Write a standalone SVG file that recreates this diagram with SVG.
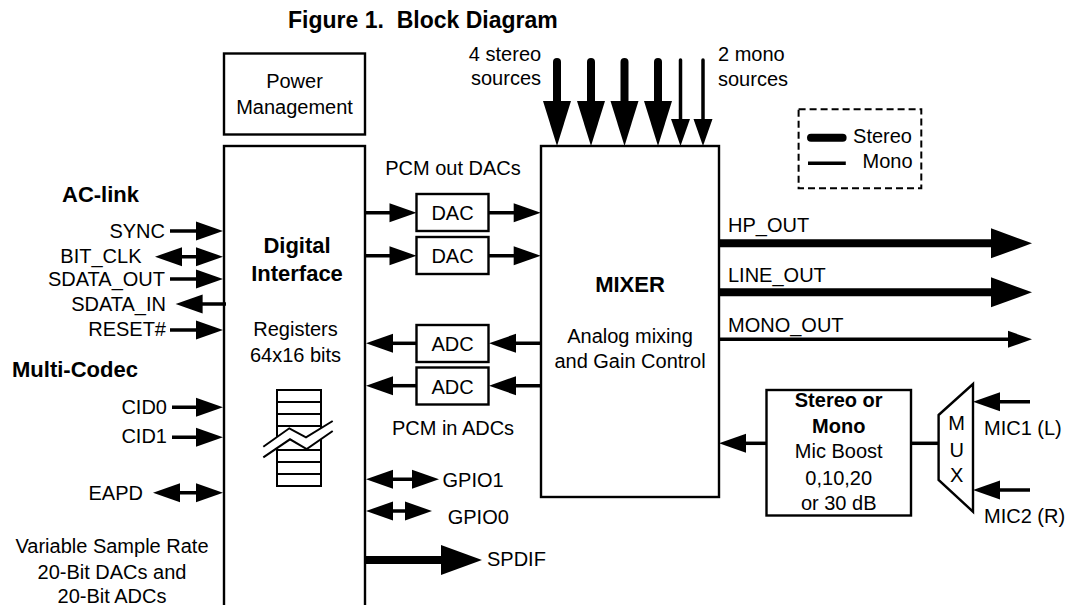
<svg xmlns="http://www.w3.org/2000/svg" xmlns:xlink="http://www.w3.org/1999/xlink" width="1066" height="605" viewBox="0 0 1066 605">
<style>
text{font-family:"Liberation Sans",Arial,sans-serif;font-size:20px;fill:#000}
.b{font-weight:bold;font-size:22px}
.bs{font-weight:bold}
.m{text-anchor:middle}
.e{text-anchor:end}
.box{fill:#fff;stroke:#000;stroke-width:2.4}
.w{stroke:#000;stroke-width:3.5;fill:none}
.t{stroke:#000;stroke-width:8;fill:none}
.h{fill:#000}
</style>
<defs>
<path id="hs" class="h" d="M0,0 L-27,-9.5 L-27,9.5 Z"/>
<path id="hm" class="h" d="M0,0 L-24,-8.5 L-24,8.5 Z"/>
<path id="hl" class="h" d="M0,0 L-41,-15 L-41,15 Z"/>
<path id="hv" class="h" d="M0,0 L-45,-14 L-45,14 Z"/>
</defs>
<rect width="1066" height="605" fill="#fff"/>
<text id="title" class="bs" x="288" y="27.5" style="font-size:23px">Figure 1.&#160; Block Diagram</text>

<g id="power"><rect class="box" x="224" y="53.5" width="141" height="81"/>
<text class="m" x="294.5" y="88">Power</text><text class="m" x="294.5" y="114">Management</text></g>

<g id="digital"><rect class="box" x="224" y="146" width="141" height="480"/>
<text class="b m" x="297" y="253">Digital</text><text class="b m" x="297" y="280.7">Interface</text>
<text class="m" x="295.5" y="335.7">Registers</text><text class="m" x="295.5" y="361.7">64x16 bits</text>
<g id="regstack"><rect x="277" y="390" width="44" height="96" fill="#fff" stroke="#000" stroke-width="2"/>
<path d="M277,402H321M277,414H321M277,426H321M277,438H321M277,450H321M277,462H321M277,474H321" stroke="#000" stroke-width="2"/>
<polygon points="263.3,446.7 289.3,428.3 306,437.3 332.7,421 332.7,431 306.7,449 290,439.3 263.3,457.3" fill="#fff"/>
<polyline points="263.3,446.7 289.3,428.3 306,437.3 332.7,421" fill="none" stroke="#000" stroke-width="2"/>
<polyline points="263.3,457.3 290,439.3 306.7,449 332.7,431" fill="none" stroke="#000" stroke-width="2"/></g></g>

<g id="dac1"><rect class="box" x="416.5" y="194" width="72" height="37"/><text class="m" x="452.5" y="220">DAC</text></g>
<g id="dac2"><rect class="box" x="416.5" y="237" width="72" height="37"/><text class="m" x="452.5" y="263">DAC</text></g>
<g id="adc1"><rect class="box" x="416.5" y="325" width="72" height="37"/><text class="m" x="452.5" y="351">ADC</text></g>
<g id="adc2"><rect class="box" x="416.5" y="367.5" width="72" height="37"/><text class="m" x="452.5" y="393.5">ADC</text></g>

<g id="mixer"><rect class="box" x="541" y="146" width="178" height="351"/>
<text class="b m" x="630" y="291.7">MIXER</text>
<text class="m" x="630" y="343.3">Analog mixing</text><text class="m" x="630" y="368.3">and Gain Control</text></g>

<g id="boost"><rect class="box" x="766.5" y="390" width="144.5" height="125.5"/>
<text class="bs m" x="838.7" y="406.7">Stereo or</text><text class="bs m" x="838.7" y="432.7">Mono</text>
<text class="m" x="838.7" y="458.3">Mic Boost</text><text class="m" x="838.7" y="485">0,10,20</text><text class="m" x="838.7" y="510">or 30 dB</text></g>

<g id="mux"><polygon class="box" points="938.6,415 973,384 973,511.7 938.6,480"/>
<text class="m" x="956.7" y="430">M</text><text class="m" x="956.7" y="457">U</text><text class="m" x="956.7" y="482">X</text></g>

<g id="legend"><rect x="798.6" y="109.3" width="122.7" height="79" fill="none" stroke="#000" stroke-width="2" stroke-dasharray="7 4"/>
<line x1="811" y1="137.7" x2="842.6" y2="137.7" class="t" stroke-linecap="round"/>
<line x1="808" y1="163.3" x2="845.8" y2="163.3" class="w"/>
<text class="e" x="912" y="142.5">Stereo</text><text class="e" x="912.6" y="168">Mono</text></g>

<g id="labels">
<text x="505" y="61" class="m">4 stereo</text><text x="506" y="85" class="m">sources</text>
<text x="718" y="61">2 mono</text><text x="718" y="86">sources</text>
<text class="m" x="453" y="175">PCM out DACs</text>
<text class="m" x="453" y="435">PCM in ADCs</text>
<text class="b" x="62" y="201.7">AC-link</text>
<text class="b" x="12" y="376.7">Multi-Codec</text>
<text class="e" x="165" y="237.5">SYNC</text>
<text class="e" x="141.5" y="262.5">BIT_CLK</text>
<text class="e" x="165" y="286">SDATA_OUT</text>
<text class="e" x="166" y="310.5">SDATA_IN</text>
<text class="e" x="166" y="335.5">RESET#</text>
<text class="e" x="167" y="413.5">CID0</text>
<text class="e" x="167" y="443">CID1</text>
<text class="e" x="143" y="499.5">EAPD</text>
<text class="m" x="112" y="553">Variable Sample Rate</text>
<text class="m" x="112" y="579">20-Bit DACs and</text>
<text class="m" x="112" y="603">20-Bit ADCs</text>
<text x="442.5" y="487.3">GPIO1</text>
<text x="447.7" y="524">GPIO0</text>
<text x="487" y="566">SPDIF</text>
<text x="728" y="231.7">HP_OUT</text>
<text x="728" y="281.7">LINE_OUT</text>
<text x="728" y="331.7">MONO_OUT</text>
<text x="984" y="435">MIC1 (L)</text>
<text x="984" y="523.3">MIC2 (R)</text>
</g>

<g id="connectors">
<g id="sources">
<line class="t" x1="557" y1="62" x2="557" y2="106" stroke-linecap="round"/><use xlink:href="#hv" transform="translate(557,146) rotate(90)"/>
<line class="t" x1="591" y1="62" x2="591" y2="106" stroke-linecap="round"/><use xlink:href="#hv" transform="translate(591,146) rotate(90)"/>
<line class="t" x1="624.5" y1="62" x2="624.5" y2="106" stroke-linecap="round"/><use xlink:href="#hv" transform="translate(624.5,146) rotate(90)"/>
<line class="t" x1="658" y1="62" x2="658" y2="106" stroke-linecap="round"/><use xlink:href="#hv" transform="translate(658,146) rotate(90)"/>
<line class="w" x1="680.5" y1="60" x2="680.5" y2="125" stroke-linecap="round"/><use xlink:href="#hs" transform="translate(680.5,146) rotate(90)"/>
<line class="w" x1="703" y1="60" x2="703" y2="125" stroke-linecap="round"/><use xlink:href="#hs" transform="translate(703,146) rotate(90)"/>
</g>
<line class="w" x1="170" y1="231" x2="205" y2="231"/><use xlink:href="#hs" transform="translate(223,231)"/>
<line class="w" x1="165" y1="256.7" x2="210" y2="256.7"/><use xlink:href="#hs" transform="translate(223,256.7)"/><use xlink:href="#hs" transform="translate(155,256.7) rotate(180)"/>
<line class="w" x1="170" y1="279" x2="205" y2="279"/><use xlink:href="#hs" transform="translate(223,279)"/>
<line class="w" x1="226" y1="304" x2="190" y2="304"/><use xlink:href="#hs" transform="translate(175.6,304) rotate(180)"/>
<line class="w" x1="170" y1="330" x2="205" y2="330"/><use xlink:href="#hs" transform="translate(223,330)"/>
<line class="w" x1="172" y1="407.3" x2="205" y2="407.3"/><use xlink:href="#hs" transform="translate(223,407.3)"/>
<line class="w" x1="172" y1="437.3" x2="205" y2="437.3"/><use xlink:href="#hs" transform="translate(223,437.3)"/>
<line class="w" x1="165" y1="492.7" x2="210" y2="492.7"/><use xlink:href="#hs" transform="translate(223,492.7)"/><use xlink:href="#hs" transform="translate(153,492.7) rotate(180)"/>

<line class="w" x1="365" y1="212.7" x2="400" y2="212.7"/><use xlink:href="#hs" transform="translate(416.5,212.7)"/>
<line class="w" x1="488.5" y1="212.7" x2="525" y2="212.7"/><use xlink:href="#hs" transform="translate(540.7,212.7)"/>
<line class="w" x1="365" y1="255.7" x2="400" y2="255.7"/><use xlink:href="#hs" transform="translate(416.5,255.7)"/>
<line class="w" x1="488.5" y1="255.7" x2="525" y2="255.7"/><use xlink:href="#hs" transform="translate(540.7,255.7)"/>
<line class="w" x1="541" y1="343.3" x2="505" y2="343.3"/><use xlink:href="#hs" transform="translate(489,343.3) rotate(180)"/>
<line class="w" x1="416.5" y1="343.3" x2="385" y2="343.3"/><use xlink:href="#hs" transform="translate(366,343.3) rotate(180)"/>
<line class="w" x1="541" y1="385.7" x2="505" y2="385.7"/><use xlink:href="#hs" transform="translate(489,385.7) rotate(180)"/>
<line class="w" x1="416.5" y1="385.7" x2="385" y2="385.7"/><use xlink:href="#hs" transform="translate(366,385.7) rotate(180)"/>

<line class="w" x1="378" y1="479.3" x2="425" y2="479.3"/><use xlink:href="#hs" transform="translate(439,479.3)"/><use xlink:href="#hs" transform="translate(366,479.3) rotate(180)"/>
<line class="w" x1="378" y1="511" x2="418" y2="511"/><use xlink:href="#hs" transform="translate(432,511)"/><use xlink:href="#hs" transform="translate(366,511) rotate(180)"/>
<line class="t" x1="365" y1="560" x2="446" y2="560"/><use xlink:href="#hl" transform="translate(482,560)"/>

<line class="t" x1="719" y1="243.3" x2="996" y2="243.3"/><use xlink:href="#hl" transform="translate(1032,243.3)"/>
<line class="t" x1="719" y1="292.3" x2="996" y2="292.3"/><use xlink:href="#hl" transform="translate(1032,292.3)"/>
<line class="w" x1="719" y1="339.3" x2="1012" y2="339.3"/><use xlink:href="#hm" transform="translate(1032,339.3)"/>

<line class="w" x1="766.5" y1="443.3" x2="735" y2="443.3"/><use xlink:href="#hs" transform="translate(719,443.3) rotate(180)"/>
<line class="w" x1="911" y1="443.3" x2="939" y2="443.3"/>
<line class="w" x1="1030" y1="401.7" x2="990" y2="401.7"/><use xlink:href="#hs" transform="translate(973,401.7) rotate(180)"/>
<line class="w" x1="1030" y1="490" x2="990" y2="490"/><use xlink:href="#hs" transform="translate(973,490) rotate(180)"/>
</g>
</svg>
